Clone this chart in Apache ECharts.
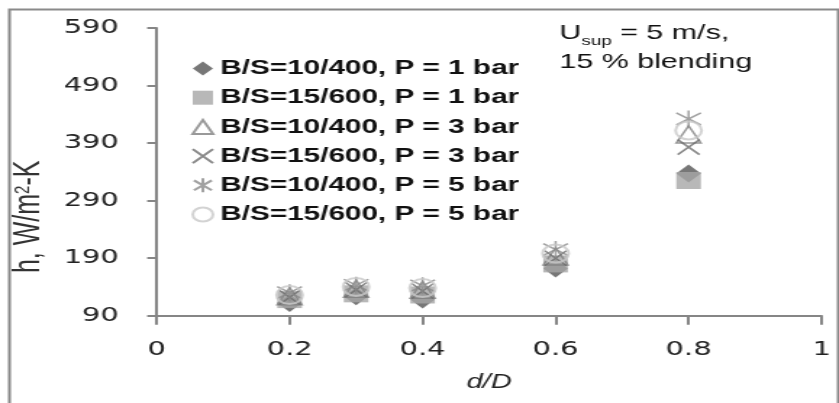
<!DOCTYPE html>
<html>
<head>
<meta charset="utf-8">
<title>Heat transfer coefficient vs d/D</title>
<script src="https://cdn.jsdelivr.net/npm/echarts@6/dist/echarts.min.js"></script>
<style>
  html, body { margin: 0; padding: 0; background: #fff; overflow: hidden; }
  /* the chart is laid out on a narrower canvas and widened to the page width */
  #chart { width: 579px; height: 403px; transform: scaleX(1.449); transform-origin: 0 0; }
</style>
</head>
<body>
<div id="chart"></div>
<script>
// d/D positions
const dOverD = [0.2, 0.3, 0.4, 0.6, 0.8];

// heat transfer coefficient h (W/m2-K) for each configuration
const hBS10P1 = [112, 124, 118, 172, 337];
const hBS15P1 = [118, 128, 126, 180, 325];
const hBS10P3 = [124, 137, 135, 193, 405];
const hBS15P3 = [122, 135, 133, 190, 383];
const hBS10P5 = [130, 143, 142, 205, 432];
const hBS15P5 = [126, 140, 138, 198, 412];

const seriesNames = [
  'B/S=10/400, P = 1 bar',
  'B/S=15/600, P = 1 bar',
  'B/S=10/400, P = 3 bar',
  'B/S=15/600, P = 3 bar',
  'B/S=10/400, P = 5 bar',
  'B/S=15/600, P = 5 bar'
];
const seriesValues = [hBS10P1, hBS15P1, hBS10P3, hBS15P3, hBS10P5, hBS15P5];

const yTicks = { min: 90, max: 590, step: 100 };
const xTicks = { min: 0, max: 1, step: 0.2 };

const CROSS = 'path://M0,0 L10,10 M10,0 L0,10';
const STAR = 'path://M5,0 L5,10 M0.6,1.5 L9.4,8.5 M0.6,8.5 L9.4,1.5';

const markerStyles = [
  { symbol: 'diamond', size: [17, 18], itemStyle: { color: '#555555' } },
  { symbol: 'rect', size: 17, itemStyle: { color: '#a6a6a6' } },
  { symbol: 'triangle', size: 17, itemStyle: { color: 'rgba(255,255,255,0)', borderColor: '#7f7f7f', borderWidth: 1.5 } },
  { symbol: CROSS, size: 15, itemStyle: { color: 'rgba(255,255,255,0)', borderColor: '#6a6a6a', borderWidth: 1.5 } },
  { symbol: STAR, size: 17, itemStyle: { color: 'rgba(255,255,255,0)', borderColor: '#8a8a8a', borderWidth: 1.5 } },
  { symbol: 'circle', size: 18, itemStyle: { color: 'rgba(255,255,255,0)', borderColor: '#c8c8c8', borderWidth: 2 } }
];

const series = seriesNames.map((name, i) => ({
  name: name,
  type: 'scatter',
  symbol: markerStyles[i].symbol,
  symbolSize: markerStyles[i].size,
  itemStyle: markerStyles[i].itemStyle,
  data: dOverD.map((x, j) => [x, seriesValues[i][j]]),
  emphasis: { disabled: true }
}));

const axisGrey = '#868686';

const chart = echarts.init(document.getElementById('chart'), null, { renderer: 'canvas' });
chart.setOption({
  animation: false,
  backgroundColor: '#ffffff',
  grid: { left: 107.4, right: 12, top: 28, bottom: 87.3, containLabel: false },
  xAxis: {
    type: 'value',
    min: xTicks.min, max: xTicks.max, interval: xTicks.step,
    name: 'd/D',
    nameLocation: 'middle',
    nameGap: 57,
    nameTextStyle: { fontFamily: 'Liberation Sans', fontStyle: 'italic', fontSize: 20, color: '#222' },
    axisLine: { show: true, onZero: false, lineStyle: { color: axisGrey, width: 2 } },
    axisTick: { show: true, inside: false, length: 9, lineStyle: { color: axisGrey, width: 2 } },
    splitLine: { show: false },
    axisLabel: { fontFamily: 'DejaVu Sans', fontSize: 20, color: '#222', margin: 24 }
  },
  yAxis: {
    type: 'value',
    min: yTicks.min, max: yTicks.max, interval: yTicks.step,
    name: 'h, W/m{sup|2}-K',
    nameLocation: 'middle',
    nameRotate: 90,
    nameGap: 66,
    nameTextStyle: {
      fontFamily: 'Liberation Sans', fontSize: 25, color: '#333',
      padding: [0, 90, 0, 0],
      rich: { sup: { fontFamily: 'Liberation Sans', fontSize: 15, color: '#333', verticalAlign: 'top', padding: [0, 0, 10, 0] } }
    },
    axisLine: { show: true, onZero: false, lineStyle: { color: axisGrey, width: 2 } },
    axisTick: { show: true, inside: false, length: 6.5, lineStyle: { color: axisGrey, width: 2 } },
    splitLine: { show: false },
    axisLabel: { fontFamily: 'DejaVu Sans', fontSize: 20, color: '#222', margin: 26 }
  },
  legend: {
    orient: 'vertical',
    left: 132,
    top: 58,
    padding: 0,
    itemGap: 8.2,
    itemWidth: 14,
    itemHeight: 14,
    itemTextGap: 6,
    data: seriesNames,
    textStyle: { fontFamily: 'Liberation Sans', fontWeight: 'bold', fontSize: 20.5, lineHeight: 20, color: '#111' },
    selectedMode: false
  },
  graphic: [
    {
      type: 'rect',
      left: 4, top: 7,
      shape: { width: 572, height: 420 },
      style: { fill: 'none', stroke: '#8a8a8a', lineWidth: 2 },
      silent: true
    },
    {
      type: 'text',
      left: 386, top: 19,
      style: {
        text: 'U{sub|sup} = 5 m/s,\n15 % blending',
        font: '21px "Liberation Sans"',
        fill: '#111',
        lineHeight: 29,
        rich: {
          sub: { font: '13px "Liberation Sans"', fill: '#111', verticalAlign: 'bottom', padding: [8, 0, 0, 0] }
        }
      },
      silent: true
    }
  ],
  series: series
});
</script>
</body>
</html>
